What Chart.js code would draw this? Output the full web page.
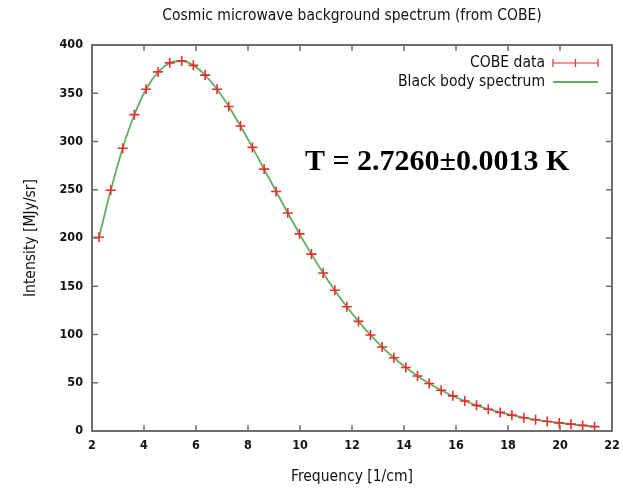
<!DOCTYPE html>
<html>
<head>
<meta charset="utf-8">
<script src="https://cdn.jsdelivr.net/npm/chart.js@4.4.1/dist/chart.umd.min.js"></script>
<style>
  html, body { margin: 0; padding: 0; background: #fff; }
</style>
</head>
<body>
<canvas id="cmb" width="623" height="489"></canvas>
<script>
// frequency in 1/cm
const freq = [2.27, 2.72, 3.18, 3.63, 4.08, 4.54, 4.99, 5.45, 5.90, 6.35, 6.81, 7.26, 7.71, 8.17, 8.62,
  9.08, 9.53, 9.98, 10.44, 10.89, 11.34, 11.80, 12.25, 12.71, 13.16, 13.61, 14.07, 14.52, 14.97,
  15.43, 15.88, 16.34, 16.79, 17.24, 17.70, 18.15, 18.61, 19.06, 19.51, 19.97, 20.42, 20.87, 21.33];

// COBE data, MJy/sr
const intensity = [200.7, 249.5, 293.0, 327.8, 354.1, 372.1, 381.5, 383.5, 378.9, 368.8, 354.1, 336.3,
  316.1, 293.9, 271.4, 248.2, 225.9, 204.3, 183.3, 163.8, 145.8, 128.8, 113.6, 99.5, 87.0, 75.9, 65.8,
  57.0, 49.2, 42.3, 36.4, 31.1, 26.6, 22.6, 19.3, 16.4, 13.8, 11.7, 9.9, 8.4, 7.1, 5.8, 4.5];

// black body curve
const blackBody = [200.6, 249.4, 293.1, 327.7, 354.1, 372.0, 381.4, 383.4, 378.9, 368.9, 354.1, 336.3,
  316.1, 293.9, 271.4, 248.3, 225.9, 204.3, 183.3, 163.8, 145.7, 128.8, 113.6, 99.5, 87.0, 75.9, 65.8,
  57.0, 49.2, 42.3, 36.3, 31.1, 26.6, 22.6, 19.3, 16.4, 13.8, 11.7, 9.9, 8.4, 7.1, 5.8, 4.5];

const xTicks = [2, 4, 6, 8, 10, 12, 14, 16, 18, 20, 22];
const yTicks = [0, 50, 100, 150, 200, 250, 300, 350, 400];

const FONT = "'DejaVu Sans Condensed', 'Liberation Sans Narrow', 'DejaVu Sans', sans-serif";
const RED = "rgb(235, 45, 45)";
const GREEN = "rgb(95, 175, 95)";
const FRAME = "#6e6e6e";

// gnuplot-like frame with inward, mirrored ticks, title, key and label
const gnuFrame = {
  id: "gnuFrame",
  afterDraw(chart) {
    const { ctx, chartArea: a } = chart;
    const xs = chart.scales.x, ys = chart.scales.y;
    ctx.save();
    ctx.strokeStyle = FRAME;
    ctx.lineWidth = 1.5;
    ctx.beginPath();
    xTicks.forEach((v) => {
      const px = xs.getPixelForValue(v);
      ctx.moveTo(px, a.bottom); ctx.lineTo(px, a.bottom - 6);
      ctx.moveTo(px, a.top); ctx.lineTo(px, a.top + 6);
    });
    yTicks.forEach((v) => {
      const py = ys.getPixelForValue(v);
      ctx.moveTo(a.left, py); ctx.lineTo(a.left + 6, py);
      ctx.moveTo(a.right, py); ctx.lineTo(a.right - 6, py);
    });
    ctx.stroke();
    ctx.lineWidth = 2;
    ctx.strokeRect(a.left, a.top, a.right - a.left, a.bottom - a.top);

    // title, centred over the plot
    ctx.font = "15.5px " + FONT;
    ctx.fillStyle = "#111";
    ctx.textAlign = "center";
    ctx.textBaseline = "middle";
    ctx.fillText("Cosmic microwave background spectrum (from COBE)", (a.left + a.right) / 2, 16);

    // key
    ctx.textAlign = "right";
    ctx.fillText("COBE data", 545, 63);
    ctx.fillText("Black body spectrum", 545, 82);
    ctx.lineWidth = 1.2;
    ctx.strokeStyle = RED;
    ctx.beginPath();
    ctx.moveTo(553, 63); ctx.lineTo(598, 63);
    ctx.moveTo(553, 59); ctx.lineTo(553, 67);
    ctx.moveTo(598, 59); ctx.lineTo(598, 67);
    ctx.moveTo(575.5, 59); ctx.lineTo(575.5, 67);
    ctx.stroke();
    ctx.strokeStyle = GREEN;
    ctx.lineWidth = 2;
    ctx.beginPath();
    ctx.moveTo(553, 82); ctx.lineTo(598, 82);
    ctx.stroke();

    // temperature label
    ctx.font = "bold 30px 'Liberation Serif', 'Times New Roman', serif";
    ctx.fillStyle = "#000";
    ctx.textAlign = "left";
    ctx.fillText("T = 2.7260\u00b10.0013 K", 305, 162);
    ctx.restore();
  },
};

const ctx = document.getElementById("cmb");

new Chart(ctx, {
  type: "line",
  data: {
    datasets: [
      {
        label: "COBE data",
        data: freq.map((f, i) => ({ x: f, y: intensity[i] })),
        showLine: false,
        pointStyle: "cross",
        pointRadius: 5,
        pointBorderWidth: 1.6,
        pointBorderColor: RED,
        pointBackgroundColor: RED,
        order: 0,
      },
      {
        label: "Black body spectrum",
        data: freq.map((f, i) => ({ x: f, y: blackBody[i] })),
        borderColor: GREEN,
        borderWidth: 1.8,
        pointRadius: 0,
        cubicInterpolationMode: "monotone",
        order: 1,
      },
    ],
  },
  options: {
    responsive: false,
    animation: false,
    layout: { padding: { left: 0, right: 11, top: 45, bottom: 0 } },
    plugins: {
      legend: { display: false },
      tooltip: { enabled: false },
      title: { display: false },
    },
    scales: {
      x: {
        type: "linear",
        min: 2,
        max: 22,
        afterBuildTicks: (s) => { s.ticks = xTicks.map((v) => ({ value: v })); },
        grid: { display: false, drawTicks: false },
        border: { display: false },
        ticks: { color: "#111", padding: 7, font: { family: FONT, size: 12.5, weight: "bold" } },
        title: {
          display: true,
          text: "Frequency [1/cm]",
          color: "#111",
          font: { family: FONT, size: 15.5 },
          padding: { top: 0, bottom: 3 },
        },
        afterFit: (s) => { s.height = 58; s.paddingLeft = 0; s.paddingRight = 0; },
      },
      y: {
        min: 0,
        max: 400,
        afterBuildTicks: (s) => { s.ticks = yTicks.map((v) => ({ value: v })); },
        grid: { display: false, drawTicks: false },
        border: { display: false },
        ticks: { color: "#111", padding: 9, font: { family: FONT, size: 12.5, weight: "bold" } },
        title: {
          display: true,
          text: "Intensity [MJy/sr]",
          color: "#111",
          font: { family: FONT, size: 15.5 },
          padding: { top: 22, bottom: 0 },
        },
        afterFit: (s) => { s.width = 92; s.paddingTop = 0; s.paddingBottom = 0; },
      },
    },
  },
  plugins: [gnuFrame],
});
</script>
</body>
</html>
